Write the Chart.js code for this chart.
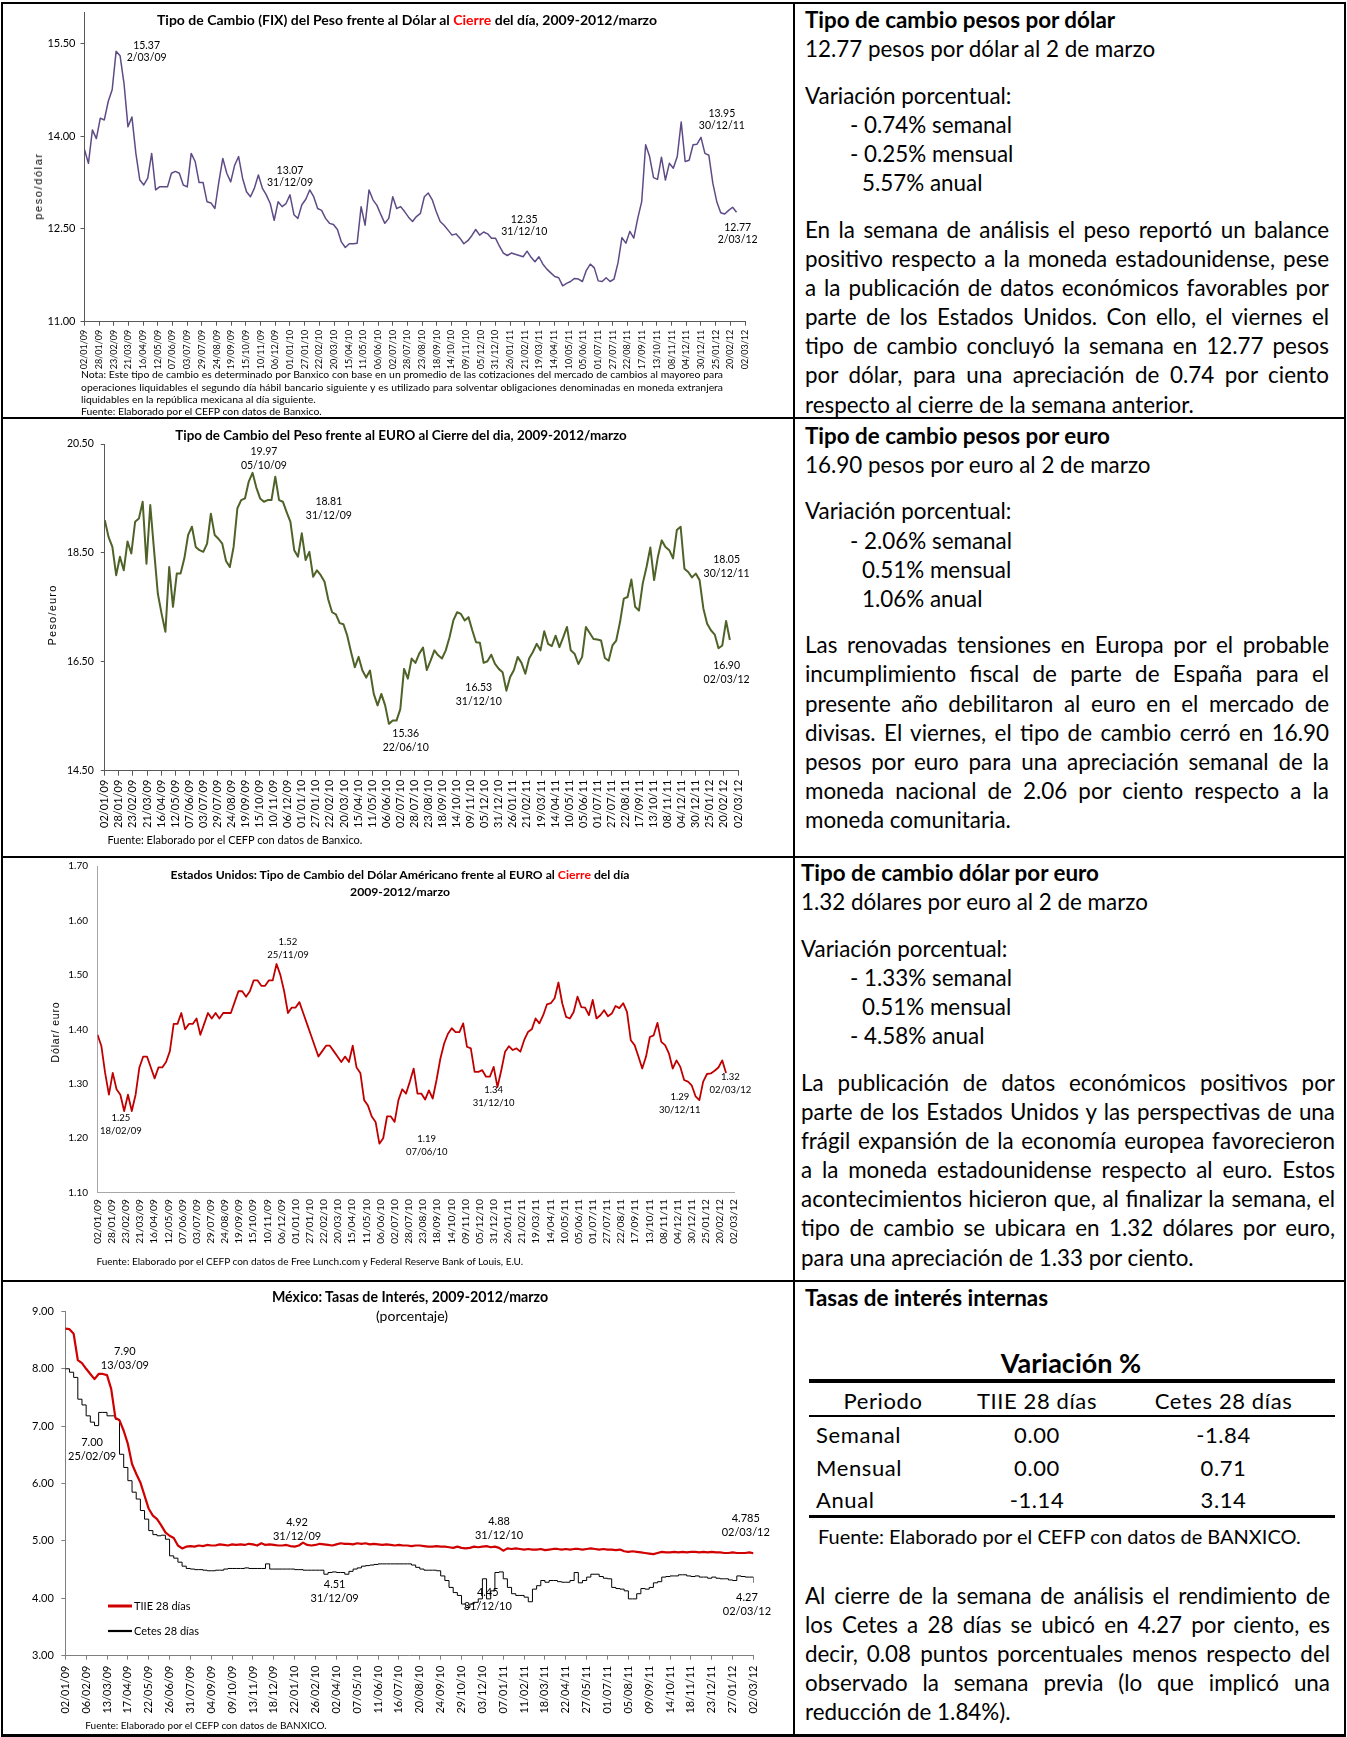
<!DOCTYPE html>
<html lang="es">
<head>
<meta charset="utf-8">
<title>Tipo de cambio y tasas de interés, 2009-2012/marzo</title>
<script src="https://cdn.jsdelivr.net/npm/chart.js@4/dist/chart.umd.min.js"></script>
<style>
  html,body{margin:0;padding:0;background:#fff;}
  body{width:1347px;height:1737px;position:relative;overflow:hidden;font-family:Lato,"Noto Sans",sans-serif;color:#000;}
  canvas.a{position:absolute;display:block;}
  .ln{position:absolute;background:#000;z-index:5;}
  .ttl{position:absolute;text-align:center;font-weight:700;white-space:nowrap;line-height:16px;width:700px;}
  .ytl{position:absolute;white-space:nowrap;transform:translate(-50%,-50%) rotate(-90deg);font-family:"Liberation Sans",Arial,sans-serif;}
  .note{position:absolute;white-space:nowrap;line-height:14px;}
  .rt{position:absolute;font-size:22.4px;line-height:29.1px;white-space:nowrap;}
  .rt .b{font-weight:700;}
  .rt .gap{height:17.5px;}
  .j{white-space:nowrap;display:block;}
  .red{color:#ff0000;}
  .tc{position:absolute;white-space:nowrap;transform:translate(-50%,-50%);}
  .tl{position:absolute;white-space:nowrap;transform:translateY(-50%);}
</style>
</head>
<body>

<canvas id="c1" class="a"></canvas>
<canvas id="c2" class="a"></canvas>
<canvas id="c3" class="a"></canvas>
<canvas id="c4" class="a"></canvas>

<!-- chart 1 texts -->
<div class="ttl" style="left:57px;top:12px;font-size:14px;">Tipo de Cambio (FIX) del Peso frente al Dólar al <span class="red">Cierre</span> del día, 2009-2012/marzo</div>
<div class="ytl" style="left:37.7px;top:186px;font-size:11px;letter-spacing:1.6px;">peso/dólar</div>
<div class="note" style="left:81px;top:368.3px;width:642px;font-size:10.4px;line-height:12.2px;">
  <div class="j">Nota: Este tipo de cambio es determinado por Banxico con base en un promedio de las cotizaciones del mercado de cambios al mayoreo para</div>
  <div class="j">operaciones liquidables el segundo día hábil bancario siguiente y es utilizado para solventar obligaciones denominadas en moneda extranjera</div>
  <div>liquidables en la república mexicana al día siguiente.</div>
  <div>Fuente: Elaborado por el CEFP con datos de Banxico.</div>
</div>

<!-- chart 2 texts -->
<div class="ttl" style="left:51px;top:427px;font-size:13.4px;">Tipo de Cambio del Peso frente al EURO al Cierre del dia, 2009-2012/marzo</div>
<div class="ytl" style="left:52px;top:615px;font-size:11px;letter-spacing:1.2px;">Peso/euro</div>
<div class="note" style="left:107.5px;top:832.6px;font-size:11px;">Fuente: Elaborado por el CEFP con datos de Banxico.</div>

<!-- chart 3 texts -->
<div class="ttl" style="left:50px;top:867px;font-size:12.2px;">Estados Unidos: Tipo de Cambio del Dólar Américano frente al EURO al <span class="red">Cierre</span> del día</div>
<div class="ttl" style="left:50px;top:883.7px;font-size:12.2px;">2009-2012/marzo</div>
<div class="ytl" style="left:55.4px;top:1032px;font-size:10.5px;letter-spacing:0.8px;">Dólar/ euro</div>
<div class="note" style="left:96.4px;top:1253.6px;font-size:10px;">Fuente: Elaborado por el CEFP con datos de Free Lunch.com y Federal Reserve Bank of Louis, E.U.</div>

<!-- chart 4 texts -->
<div class="ttl" style="left:60px;top:1289px;font-size:14.2px;">México: Tasas de Interés, 2009-2012/marzo</div>
<div class="ttl" style="left:62px;top:1308px;font-size:14px;font-weight:400;">(porcentaje)</div>
<div class="note" style="left:85.3px;top:1717.7px;font-size:10px;">Fuente: Elaborado por el CEFP con datos de BANXICO.</div>

<!-- right column row 1 -->
<div class="rt" style="left:805px;top:5.4px;width:524px;">
  <div class="b">Tipo de cambio pesos por dólar</div>
  <div>12.77 pesos por dólar al 2 de marzo</div>
  <div class="gap"></div>
  <div>Variación porcentual:</div>
  <div style="padding-left:45px">- 0.74% semanal</div>
  <div style="padding-left:45px">- 0.25% mensual</div>
  <div style="padding-left:57px">5.57% anual</div>
  <div class="gap"></div>
  <div class="j">En la semana de análisis el peso reportó un balance</div>
  <div class="j">positivo respecto a la moneda estadounidense, pese</div>
  <div class="j">a la publicación de datos económicos favorables por</div>
  <div class="j">parte de los Estados Unidos. Con ello, el viernes el</div>
  <div class="j">tipo de cambio concluyó la semana en 12.77 pesos</div>
  <div class="j">por dólar, para una apreciación de 0.74 por ciento</div>
  <div>respecto al cierre de la semana anterior.</div>
</div>

<!-- right column row 2 -->
<div class="rt" style="left:805px;top:420.8px;width:524px;">
  <div class="b">Tipo de cambio pesos por euro</div>
  <div>16.90 pesos por euro al 2 de marzo</div>
  <div class="gap"></div>
  <div>Variación porcentual:</div>
  <div style="padding-left:45px">- 2.06% semanal</div>
  <div style="padding-left:57px">0.51% mensual</div>
  <div style="padding-left:57px">1.06% anual</div>
  <div class="gap"></div>
  <div class="j">Las renovadas tensiones en Europa por el probable</div>
  <div class="j">incumplimiento fiscal de parte de España para el</div>
  <div class="j">presente año debilitaron al euro en el mercado de</div>
  <div class="j">divisas. El viernes, el tipo de cambio cerró en 16.90</div>
  <div class="j">pesos por euro para una apreciación semanal de la</div>
  <div class="j">moneda nacional de 2.06 por ciento respecto a la</div>
  <div>moneda comunitaria.</div>
</div>

<!-- right column row 3 -->
<div class="rt" style="left:801px;top:858.4px;width:534px;">
  <div class="b">Tipo de cambio dólar por euro</div>
  <div>1.32 dólares por euro al 2 de marzo</div>
  <div class="gap"></div>
  <div>Variación porcentual:</div>
  <div style="padding-left:49px">- 1.33% semanal</div>
  <div style="padding-left:61px">0.51% mensual</div>
  <div style="padding-left:49px">- 4.58% anual</div>
  <div class="gap"></div>
  <div class="j">La publicación de datos económicos positivos por</div>
  <div class="j">parte de los Estados Unidos y las perspectivas de una</div>
  <div class="j">frágil expansión de la economía europea favorecieron</div>
  <div class="j">a la moneda estadounidense respecto al euro. Estos</div>
  <div class="j">acontecimientos hicieron que, al finalizar la semana, el</div>
  <div class="j">tipo de cambio se ubicara en 1.32 dólares por euro,</div>
  <div>para una apreciación de 1.33 por ciento.</div>
</div>

<!-- right column row 4 -->
<div class="rt" style="left:805px;top:1282.5px;width:524px;"><div class="b">Tasas de interés internas</div></div>
<div class="tc" style="left:1071px;top:1362px;font-size:27px;font-weight:700;">Variación %</div>
<div class="ln" style="left:809px;top:1379px;width:526px;height:4px;"></div>
<div class="tc" style="left:883px;top:1399.7px;font-size:22px;letter-spacing:0.6px;">Periodo</div>
<div class="tc" style="left:1037px;top:1399.7px;font-size:22px;letter-spacing:0.6px;">TIIE 28 días</div>
<div class="tc" style="left:1223.5px;top:1399.7px;font-size:22px;letter-spacing:0.6px;">Cetes 28 días</div>
<div class="ln" style="left:809px;top:1415px;width:526px;height:2px;"></div>
<div class="tl" style="left:816px;top:1434px;font-size:22px;letter-spacing:0.6px;">Semanal</div>
<div class="tc" style="left:1037px;top:1434px;font-size:22px;letter-spacing:0.6px;">0.00</div>
<div class="tc" style="left:1223.5px;top:1434px;font-size:22px;letter-spacing:0.6px;">-1.84</div>
<div class="tl" style="left:816px;top:1466.6px;font-size:22px;letter-spacing:0.6px;">Mensual</div>
<div class="tc" style="left:1037px;top:1466.6px;font-size:22px;letter-spacing:0.6px;">0.00</div>
<div class="tc" style="left:1223.5px;top:1466.6px;font-size:22px;letter-spacing:0.6px;">0.71</div>
<div class="tl" style="left:816px;top:1499px;font-size:22px;letter-spacing:0.6px;">Anual</div>
<div class="tc" style="left:1037px;top:1499px;font-size:22px;letter-spacing:0.6px;">-1.14</div>
<div class="tc" style="left:1223.5px;top:1499px;font-size:22px;letter-spacing:0.6px;">3.14</div>
<div class="ln" style="left:809px;top:1515px;width:526px;height:3px;"></div>
<div class="tl" style="left:818px;top:1536px;font-size:20px;">Fuente: Elaborado por el CEFP con datos de BANXICO.</div>
<div class="rt" style="left:805px;top:1580.5px;width:525px;">
  <div class="j">Al cierre de la semana de análisis el rendimiento de</div>
  <div class="j">los Cetes a 28 días se ubicó en 4.27 por ciento, es</div>
  <div class="j">decir, 0.08 puntos porcentuales menos respecto del</div>
  <div class="j">observado la semana previa (lo que implicó una</div>
  <div>reducción de 1.84%).</div>
</div>

<!-- table borders -->
<div class="ln" style="left:1px;top:2px;width:1345px;height:2px;"></div>
<div class="ln" style="left:1px;top:416.5px;width:1345px;height:2.5px;"></div>
<div class="ln" style="left:1px;top:855.5px;width:1345px;height:2.5px;"></div>
<div class="ln" style="left:1px;top:1279.5px;width:1345px;height:2.5px;"></div>
<div class="ln" style="left:1px;top:1734px;width:1345px;height:2.5px;"></div>
<div class="ln" style="left:1px;top:2px;width:2px;height:1734px;"></div>
<div class="ln" style="left:792.5px;top:2px;width:2.5px;height:1734px;"></div>
<div class="ln" style="left:1343.5px;top:2px;width:2.5px;height:1734px;"></div>

<script>
// ---------------- DATA (weekly readings, 7-day spacing from 02/01/2009) ----------------
const SAMPLE_DAYS = 7;

// Pesos por dólar (FIX)
const usdMxn = [
 13.78,13.56,14.10,13.96,14.29,14.26,14.56,14.75,15.37,15.30,
 14.85,14.15,14.31,13.72,13.29,13.21,13.32,13.72,13.13,13.18,
 13.18,13.18,13.40,13.43,13.40,13.21,13.18,13.72,13.59,13.25,
 13.25,12.94,12.92,12.83,13.26,13.64,13.40,13.26,13.53,13.67,
 13.32,13.10,13.02,13.16,13.37,13.16,13.05,12.91,12.64,12.94,
 12.86,12.91,13.05,12.73,12.67,12.89,12.98,13.13,13.02,12.83,
 12.80,12.67,12.59,12.57,12.49,12.29,12.20,12.26,12.26,12.27,
 12.86,12.56,13.13,12.97,12.88,12.73,12.59,12.67,13.02,12.83,
 12.86,12.78,12.69,12.62,12.70,12.75,13.02,13.08,12.97,12.78,
 12.62,12.56,12.48,12.40,12.42,12.35,12.26,12.31,12.39,12.49,
 12.40,12.45,12.42,12.35,12.35,12.22,12.11,12.07,12.11,12.09,
 12.07,12.05,12.14,12.04,11.97,12.05,11.93,11.85,11.79,11.73,
 11.71,11.58,11.62,11.65,11.70,11.69,11.65,11.83,11.93,11.87,
 11.66,11.65,11.71,11.65,11.69,11.95,12.36,12.27,12.46,12.35,
 12.67,12.94,13.86,13.67,13.33,13.30,13.66,13.29,13.56,13.48,
 13.67,14.23,13.59,13.61,13.86,13.87,13.98,13.72,13.69,13.24,
 12.94,12.76,12.74,12.80,12.85,12.77
];

// Pesos por euro
const eurMxn = [
 19.10,18.79,18.61,18.09,18.43,18.18,18.71,18.49,19.07,19.13,
 19.44,18.30,19.38,18.55,17.75,17.38,17.05,18.24,17.51,18.12,
 18.12,18.40,18.83,18.98,18.61,18.55,18.52,18.67,19.22,18.83,
 18.76,18.67,18.35,18.24,18.61,19.32,19.47,19.50,19.81,19.97,
 19.70,19.50,19.44,19.47,19.47,19.90,19.47,19.44,19.25,19.07,
 18.55,18.43,18.86,18.37,18.52,18.06,18.18,18.09,17.97,17.64,
 17.41,17.37,17.21,17.19,16.98,16.68,16.40,16.59,16.34,16.21,
 16.34,15.91,15.70,15.91,15.70,15.36,15.42,15.42,15.63,16.37,
 16.19,16.56,16.48,16.65,16.76,16.35,16.52,16.71,16.62,16.56,
 16.71,16.95,17.26,17.41,17.38,17.26,17.32,17.08,16.86,16.85,
 16.48,16.51,16.63,16.46,16.37,16.31,15.97,16.22,16.35,16.59,
 16.48,16.28,16.56,16.68,16.83,16.71,17.06,16.83,16.79,16.98,
 16.77,16.95,17.14,16.71,16.65,16.46,16.59,17.14,17.03,16.92,
 16.91,16.89,16.57,16.52,16.80,16.89,17.23,17.66,17.69,18.01,
 17.51,17.44,17.94,18.24,18.60,18.00,18.43,18.73,18.61,18.55,
 18.40,18.92,18.98,18.21,18.15,18.05,18.12,18.00,17.48,17.20,
 17.08,17.00,16.75,16.80,17.25,16.90
];

// Dólares por euro
const eurUsd = [
 1.39,1.37,1.32,1.28,1.32,1.29,1.28,1.25,1.28,1.25,
 1.28,1.33,1.35,1.35,1.33,1.31,1.33,1.33,1.34,1.36,
 1.41,1.41,1.43,1.40,1.41,1.41,1.42,1.39,1.41,1.43,
 1.42,1.43,1.42,1.43,1.43,1.43,1.45,1.47,1.47,1.46,
 1.47,1.49,1.49,1.48,1.48,1.49,1.49,1.52,1.50,1.47,
 1.43,1.44,1.44,1.45,1.43,1.41,1.39,1.37,1.35,1.36,
 1.37,1.37,1.36,1.35,1.34,1.35,1.34,1.37,1.33,1.32,
 1.27,1.26,1.24,1.23,1.19,1.20,1.24,1.24,1.23,1.27,
 1.29,1.282,1.304,1.328,1.282,1.282,1.271,1.288,1.273,1.307,
 1.346,1.374,1.392,1.402,1.395,1.395,1.411,1.368,1.365,1.322,
 1.322,1.325,1.313,1.313,1.331,1.294,1.325,1.359,1.369,1.362,
 1.365,1.359,1.380,1.395,1.400,1.420,1.411,1.426,1.446,1.448,
 1.457,1.486,1.448,1.423,1.420,1.432,1.460,1.441,1.440,1.426,
 1.454,1.420,1.426,1.435,1.424,1.429,1.443,1.439,1.448,1.432,
 1.380,1.371,1.350,1.328,1.350,1.386,1.389,1.412,1.377,1.371,
 1.356,1.328,1.343,1.331,1.307,1.304,1.297,1.277,1.270,1.304,
 1.318,1.319,1.324,1.330,1.343,1.320
];

// TIIE 28 días
const tiie28 = [
 8.70,8.69,8.61,8.15,8.10,8.00,7.91,7.82,7.91,7.91,
 7.89,7.65,7.15,7.10,6.92,6.69,6.34,6.17,6.02,5.79,
 5.56,5.44,5.38,5.27,5.15,5.09,5.05,4.92,4.87,4.90,
 4.91,4.90,4.92,4.91,4.93,4.92,4.92,4.94,4.93,4.92,
 4.94,4.93,4.94,4.93,4.95,4.94,4.92,4.96,4.93,4.94,
 4.93,4.92,4.92,4.93,4.91,4.90,4.92,4.97,4.93,4.92,
 4.93,4.95,4.94,4.93,4.92,4.94,4.96,4.95,4.95,4.94,
 4.96,4.95,4.96,4.94,4.95,4.94,4.93,4.94,4.93,4.92,
 4.93,4.92,4.92,4.91,4.92,4.92,4.91,4.90,4.90,4.91,
 4.90,4.90,4.89,4.88,4.90,4.88,4.87,4.88,4.90,4.89,
 4.90,4.91,4.89,4.90,4.88,4.83,4.87,4.86,4.87,4.86,
 4.85,4.86,4.85,4.85,4.86,4.84,4.85,4.86,4.86,4.85,
 4.86,4.85,4.86,4.86,4.85,4.86,4.87,4.86,4.85,4.86,
 4.85,4.85,4.84,4.85,4.82,4.81,4.82,4.81,4.80,4.79,
 4.78,4.77,4.79,4.81,4.80,4.80,4.81,4.80,4.81,4.80,
 4.81,4.81,4.80,4.81,4.80,4.81,4.80,4.80,4.79,4.79,
 4.80,4.79,4.79,4.79,4.80,4.785
];

// Cetes 28 días
const cetes28 = [
 8.00,7.94,7.85,7.47,7.37,7.18,7.07,7.01,7.24,7.24,
 7.18,7.18,7.12,6.51,6.28,6.05,5.85,5.73,5.53,5.38,
 5.18,5.11,5.09,5.10,5.03,4.74,4.70,4.63,4.56,4.52,
 4.51,4.50,4.50,4.49,4.48,4.48,4.49,4.49,4.51,4.52,
 4.52,4.52,4.52,4.53,4.52,4.52,4.52,4.52,4.60,4.51,
 4.51,4.51,4.51,4.51,4.51,4.50,4.50,4.49,4.49,4.49,
 4.49,4.49,4.42,4.45,4.46,4.45,4.45,4.42,4.47,4.51,
 4.53,4.56,4.57,4.58,4.59,4.60,4.60,4.60,4.60,4.60,
 4.60,4.60,4.60,4.58,4.54,4.51,4.49,4.49,4.49,4.48,
 4.39,4.31,4.19,4.10,4.05,3.90,3.84,3.90,3.93,3.99,
 4.34,3.99,4.13,4.45,4.46,4.34,4.19,4.08,4.05,4.05,
 4.02,3.94,4.16,4.22,4.31,4.28,4.31,4.31,4.29,4.28,
 4.28,4.31,4.45,4.27,4.31,4.37,4.42,4.42,4.38,4.35,
 4.34,4.19,4.17,4.16,4.13,3.99,3.99,4.08,4.17,4.16,
 4.19,4.27,4.29,4.37,4.38,4.39,4.39,4.41,4.41,4.39,
 4.38,4.39,4.37,4.37,4.35,4.37,4.35,4.34,4.34,4.32,
 4.31,4.39,4.38,4.37,4.37,4.27
];

// Tick labels (date axis, 26-day interval for exchange rates, 35-day for rates)
const FX_TICK_DAYS = 26;
const fxTickLabels = ['02/01/09','28/01/09','23/02/09','21/03/09','16/04/09','12/05/09','07/06/09','03/07/09','29/07/09','24/08/09','19/09/09','15/10/09','10/11/09','06/12/09','01/01/10','27/01/10','22/02/10','20/03/10','15/04/10','11/05/10','06/06/10','02/07/10','28/07/10','23/08/10','18/09/10','14/10/10','09/11/10','05/12/10','31/12/10','26/01/11','21/02/11','19/03/11','14/04/11','10/05/11','05/06/11','01/07/11','27/07/11','22/08/11','17/09/11','13/10/11','08/11/11','04/12/11','30/12/11','25/01/12','20/02/12','02/03/12'];
const RATE_TICK_DAYS = 35;
const rateTickLabels = ['02/01/09','06/02/09','13/03/09','17/04/09','22/05/09','26/06/09','31/07/09','04/09/09','09/10/09','13/11/09','18/12/09','22/01/10','26/02/10','02/04/10','07/05/10','11/06/10','16/07/10','20/08/10','24/09/10','29/10/10','03/12/10','07/01/11','11/02/11','18/03/11','22/04/11','27/05/11','01/07/11','05/08/11','09/09/11','14/10/11','18/11/11','23/12/11','27/01/12','02/03/12'];

const yTicksUsdMxn = [11.0, 12.5, 14.0, 15.5];
const yTicksEurMxn = [14.5, 16.5, 18.5, 20.5];
const yTicksEurUsd = [1.10, 1.20, 1.30, 1.40, 1.50, 1.60, 1.70];
const yTicksRates  = [3, 4, 5, 6, 7, 8, 9];

// Annotation labels (value / date), anchored in data coordinates (day, value)
const annUsdMxn = [
  {day:110, val:15.465, text:['15.37','2/03/09']},
  {day:364, val:13.436, text:['13.07','31/12/09']},
  {day:779, val:12.644, text:['12.35','31/12/10']},
  {day:1129, val:14.358, text:['13.95','30/12/11']},
  {day:1157, val:12.514, text:['12.77','2/03/12']}
];
const annEurMxn = [
  {day:294, val:20.353, text:['19.97','05/10/09']},
  {day:414, val:19.435, text:['18.81','31/12/09']},
  {day:556, val:15.174, text:['15.36','22/06/10']},
  {day:691, val:16.019, text:['16.53','31/12/10']},
  {day:1149, val:18.370, text:['18.05','30/12/11']},
  {day:1149, val:16.423, text:['16.90','02/03/12']}
];
const annEurUsd = [
  {day:43, val:1.2372, text:['1.25','18/02/09']},
  {day:350, val:1.5604, text:['1.52','25/11/09']},
  {day:605, val:1.1986, text:['1.19','07/06/10']},
  {day:728, val:1.2886, text:['1.34','31/12/10']},
  {day:1070, val:1.2758, text:['1.29','30/12/11']},
  {day:1163, val:1.3125, text:['1.32','02/03/12']}
];
const annRates = [
  {day:100, val:8.310, text:['7.90','13/03/09']},
  {day:45, val:6.724, text:['7.00','25/02/09']},
  {day:389, val:5.314, text:['4.92','31/12/09']},
  {day:452, val:4.233, text:['4.51','31/12/09']},
  {day:728, val:5.332, text:['4.88','31/12/10']},
  {day:709, val:4.094, text:['4.45','31/12/10']},
  {day:1142, val:5.398, text:['4.785','02/03/12']},
  {day:1144, val:4.021, text:['4.27','02/03/12']}
];

// ---------------- helpers ----------------
const toPoints = vals => vals.map((v, i) => ({x: i * SAMPLE_DAYS, y: v}));

function justifyLines() {
  document.querySelectorAll('.j').forEach(el => {
    const target = el.getBoundingClientRect().width;
    const txt = el.textContent.replace(/\s+/g, ' ').trim();
    el.textContent = '';
    const sp = document.createElement('span');
    sp.style.whiteSpace = 'nowrap';
    sp.textContent = txt;
    el.appendChild(sp);
    const w = sp.getBoundingClientRect().width;
    const n = (txt.match(/ /g) || []).length;
    if (n) el.style.wordSpacing = ((target - w) / n) + 'px';
  });
}

function annotationPlugin(items, font, gap) {
  return {
    id: 'annots',
    afterDatasetsDraw(chart) {
      const {ctx} = chart, xs = chart.scales.x, ys = chart.scales.y;
      ctx.save();
      ctx.font = font; ctx.fillStyle = '#000';
      ctx.textAlign = 'center'; ctx.textBaseline = 'middle';
      items.forEach(a => {
        const px = xs.getPixelForValue(a.day), py = ys.getPixelForValue(a.val);
        a.text.forEach((t, k) => ctx.fillText(t, px, py + k * gap));
      });
      ctx.restore();
    }
  };
}

const rateLegend = {
  id: 'rateLegend',
  afterDatasetsDraw(chart) {
    const {ctx, chartArea} = chart;
    ctx.save();
    ctx.font = '11px Lato'; ctx.textBaseline = 'middle'; ctx.fillStyle = '#000';
    chart.data.datasets.forEach((ds, k) => {
      const y = chartArea.top + 294.6 + k * 25;
      ctx.strokeStyle = ds.borderColor; ctx.lineWidth = k === 0 ? 3 : 2.2;
      ctx.beginPath(); ctx.moveTo(chartArea.left + 42.7, y); ctx.lineTo(chartArea.left + 66.7, y); ctx.stroke();
      ctx.fillText(ds.label, chartArea.left + 68.7, y);
    });
    ctx.restore();
  }
};

function buildChart(id, geo, spec) {
  const cv = document.getElementById(id);
  cv.width = geo.w; cv.height = geo.h;
  cv.style.left = geo.x + 'px'; cv.style.top = geo.y + 'px';
  cv.style.width = geo.w + 'px'; cv.style.height = geo.h + 'px';
  const p = geo.plot;
  const grid = (len) => ({display: spec.tickMarks, drawOnChartArea: false, drawTicks: spec.tickMarks,
                          tickLength: len, color: spec.axisColor, tickColor: spec.axisColor, lineWidth: 1});
  return new Chart(cv, {
    type: 'line',
    data: {datasets: spec.datasets},
    options: {
      responsive: false, maintainAspectRatio: false, animation: false, devicePixelRatio: 1,
      layout: {padding: {left: 0, right: geo.w - p.r, top: p.t, bottom: 0}},
      plugins: {legend: {display: false}, tooltip: {enabled: false}, title: {display: false}},
      elements: {point: {radius: 0}, line: {tension: 0, borderJoinStyle: 'round', fill: false}},
      scales: {
        x: {
          type: 'linear', position: 'bottom', min: 0, max: spec.xMax,
          afterFit: s => { s.height = geo.h - p.b; s.paddingLeft = 0; s.paddingRight = 0; },
          afterBuildTicks: s => { s.ticks = spec.xLabels.map((_, k) => ({value: k * spec.xStep})); },
          ticks: {autoSkip: false, minRotation: 90, maxRotation: 90, padding: spec.xPad, color: '#000',
                  font: {size: spec.xFont, family: 'Lato'}, callback: (v, i) => spec.xLabels[i]},
          grid: grid(spec.xTickLen),
          border: {display: true, color: spec.axisColor, width: 1}
        },
        y: {
          type: 'linear', min: spec.yMin, max: spec.yMax,
          afterFit: s => { s.width = p.l; s.paddingTop = 0; s.paddingBottom = 0; },
          afterBuildTicks: s => { s.ticks = spec.yTicks.map(v => ({value: v})); },
          ticks: {padding: spec.yPad, color: '#000', font: {size: spec.yFont, family: 'Lato'},
                  callback: v => Number(v).toFixed(2)},
          grid: grid(4),
          border: {display: true, color: spec.axisColor, width: 1}
        }
      }
    },
    plugins: [annotationPlugin(spec.annots, spec.annotFont, spec.annotGap)].concat(spec.extra || [])
  });
}

Chart.defaults.font.family = 'Lato';

// Chart 1: pesos por dólar
buildChart('c1', {x: 10, y: 6, w: 782, h: 410, plot: {l: 74.5, t: 6.4, r: 735, b: 315.7}}, {
  datasets: [{label: 'Peso/dólar', data: toPoints(usdMxn), borderColor: '#5e4b86', borderWidth: 1.5, pointRadius: 0}],
  xMax: FX_TICK_DAYS * (fxTickLabels.length - 1), xStep: FX_TICK_DAYS, xLabels: fxTickLabels,
  yMin: 11, yMax: 16, yTicks: yTicksUsdMxn,
  tickMarks: true, xTickLen: 4, xPad: 4, xFont: 9, yPad: 5, yFont: 11, axisColor: '#595959',
  annots: annUsdMxn, annotFont: '10.5px Lato', annotGap: 12
});

// Chart 2: pesos por euro
buildChart('c2', {x: 10, y: 420, w: 782, h: 435, plot: {l: 94.8, t: 24, r: 728, b: 350.7}}, {
  datasets: [{label: 'Peso/euro', data: toPoints(eurMxn), borderColor: '#4f6228', borderWidth: 2, pointRadius: 0}],
  xMax: FX_TICK_DAYS * (fxTickLabels.length - 1), xStep: FX_TICK_DAYS, xLabels: fxTickLabels,
  yMin: 14.5, yMax: 20.5, yTicks: yTicksEurMxn,
  tickMarks: true, xTickLen: 5, xPad: 4, xFont: 11, yPad: 7, yFont: 10.5, axisColor: '#595959',
  annots: annEurMxn, annotFont: '10.5px Lato', annotGap: 14
});

// Chart 3: dólares por euro
buildChart('c3', {x: 10, y: 858, w: 782, h: 421, plot: {l: 87.5, t: 8, r: 724.2, b: 334.7}}, {
  datasets: [{label: 'Dólar/euro', data: toPoints(eurUsd), borderColor: '#c00000', borderWidth: 1.8, pointRadius: 0}],
  xMax: FX_TICK_DAYS * (fxTickLabels.length - 1), xStep: FX_TICK_DAYS, xLabels: fxTickLabels,
  yMin: 1.10, yMax: 1.70, yTicks: yTicksEurUsd,
  tickMarks: false, xTickLen: 0, xPad: 6.5, xFont: 10.2, yPad: 9.5, yFont: 10, axisColor: '#a6a6a6',
  annots: annEurUsd, annotFont: '9.5px Lato', annotGap: 13
});

// Chart 4: tasas de interés
buildChart('c4', {x: 10, y: 1283, w: 782, h: 451, plot: {l: 55.3, t: 28.4, r: 743.5, b: 372.7}}, {
  datasets: [
    {label: 'TIIE 28 días', data: toPoints(tiie28), borderColor: '#d00000', borderWidth: 2.2, pointRadius: 0},
    {label: 'Cetes 28 días', data: toPoints(cetes28), borderColor: '#000000', borderWidth: 1, pointRadius: 0, stepped: 'before'}
  ],
  xMax: RATE_TICK_DAYS * (rateTickLabels.length - 1), xStep: RATE_TICK_DAYS, xLabels: rateTickLabels,
  yMin: 3, yMax: 9, yTicks: yTicksRates,
  tickMarks: true, xTickLen: 4, xPad: 6, xFont: 10.9, yPad: 7.5, yFont: 11, axisColor: '#7f7f7f',
  annots: annRates, annotFont: '11px Lato', annotGap: 14, extra: [rateLegend]
});

justifyLines();
</script>
</body>
</html>
